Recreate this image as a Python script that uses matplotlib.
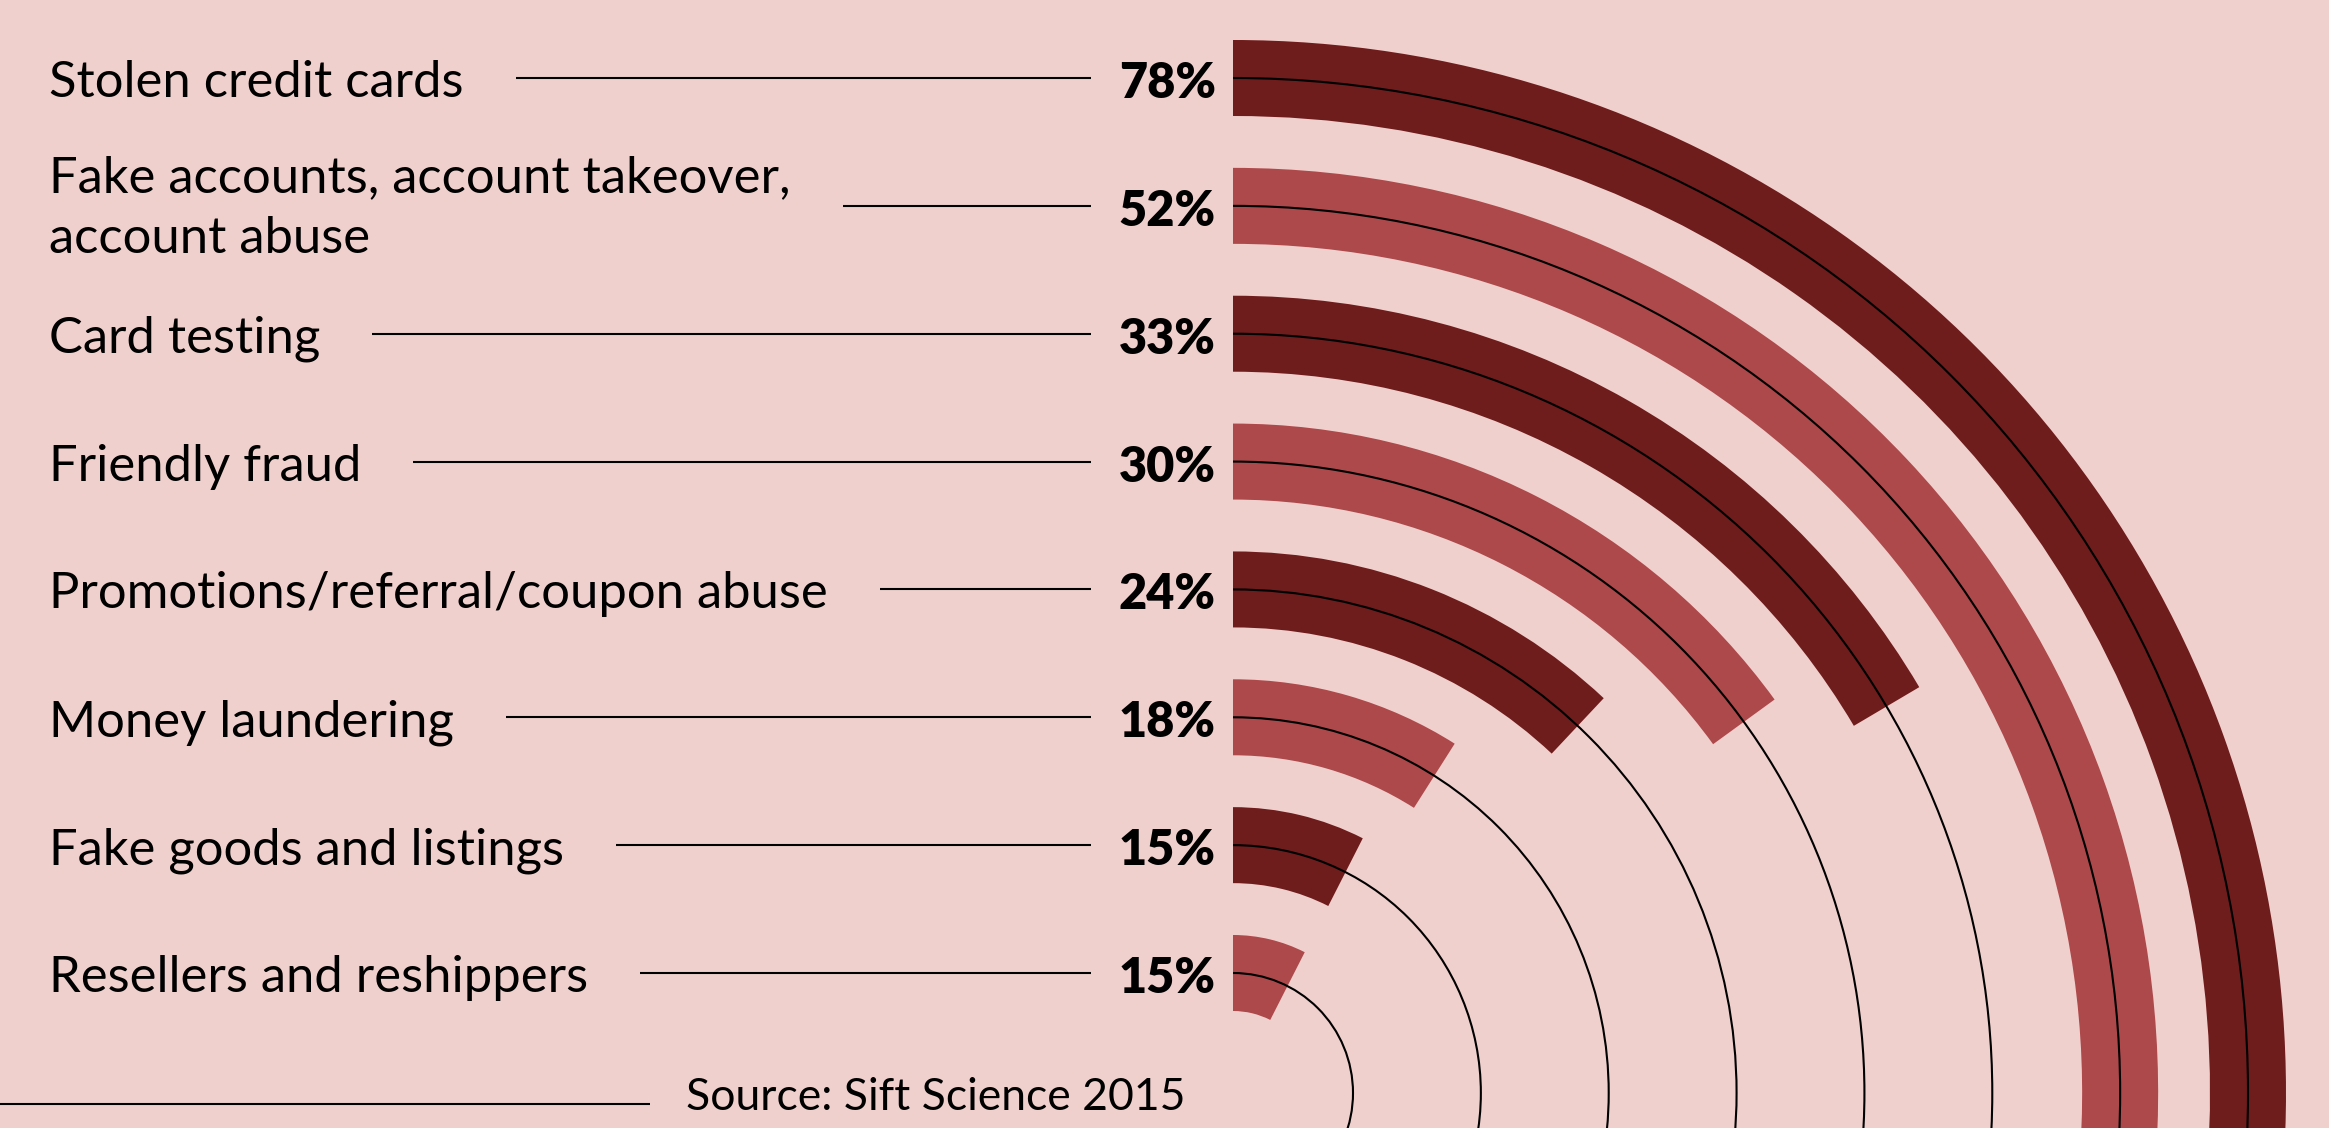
import matplotlib
matplotlib.use("Agg")
import matplotlib.pyplot as plt
from matplotlib.patches import Wedge, Arc

# ---------------- data ----------------
categories = [
    "Stolen credit cards",
    "Fake accounts, account takeover,\naccount abuse",
    "Card testing",
    "Friendly fraud",
    "Promotions/referral/coupon abuse",
    "Money laundering",
    "Fake goods and listings",
    "Resellers and reshippers",
]
values = [78, 52, 33, 30, 24, 18, 15, 15]
value_labels = ["78%", "52%", "33%", "30%", "24%", "18%", "15%", "15%"]
source_text = "Source: Sift Science 2015"

# ---------------- style / layout ----------------
W, H = 2329, 1128
BG = "#F0D0CD"
DARK = "#6E1C1C"
LIGHT = "#AD484B"
bar_colors = [DARK, LIGHT] * 4

cx, cy = 1233, 1093          # centre of the rings (pixels, y down)
r_outer, r_inner = 1015, 120  # centre-line radii of outer / inner ring
bar_w = 76
deg_per_pct = 1.8            # 100 % = half circle

FONT = "Lato"
label_size = 36.5
pct_size = 35

fig = plt.figure(figsize=(W / 100, H / 100), dpi=100)
fig.patch.set_facecolor(BG)
ax = fig.add_axes([0, 0, 1, 1])
ax.set_facecolor(BG)
ax.set_xlim(0, W)
ax.set_ylim(H, 0)
ax.set_aspect("equal")
ax.axis("off")

n = len(values)
step = (r_outer - r_inner) / (n - 1)

fig.canvas.draw()
renderer = fig.canvas.get_renderer()

for i, (cat, v, lab, col) in enumerate(zip(categories, values, value_labels, bar_colors)):
    r = r_outer - i * step
    y_line = cy - r
    # bar
    ax.add_patch(Wedge((cx, cy), r + bar_w / 2, -90, -90 + v * deg_per_pct,
                       width=bar_w, facecolor=col, edgecolor="none", zorder=2))
    # thin ring
    ax.add_patch(Arc((cx, cy), 2 * r, 2 * r, theta1=-90, theta2=90,
                     color="black", lw=1.5, zorder=3))
    # percentage
    ax.text(1216, y_line + 20, lab, ha="right", va="baseline",
            fontsize=pct_size, fontweight="heavy", family=FONT, color="black", zorder=4)
    # category label
    lines = cat.split("\n")
    if len(lines) == 1:
        baselines = [y_line + 19]
    else:
        baselines = [y_line - 14, y_line + 47]
    x_end = 0
    for ln, b in zip(lines, baselines):
        t = ax.text(49, b, ln, ha="left", va="baseline", fontsize=label_size,
                    fontweight="normal", family=FONT, color="black", zorder=4)
        bb = t.get_window_extent(renderer=renderer)
        x_end = max(x_end, bb.x1)
    ax.plot([x_end + 52, 1091], [y_line, y_line], color="black", lw=1.5,
            solid_capstyle="butt", zorder=3)

# source line
ax.plot([0, 650], [1104, 1104], color="black", lw=1.5, solid_capstyle="butt")
ax.text(686, 1110, source_text, ha="left", va="baseline", fontsize=32,
        fontweight="normal", family=FONT, color="black")

fig.savefig("out.png", dpi=100, facecolor=BG)
